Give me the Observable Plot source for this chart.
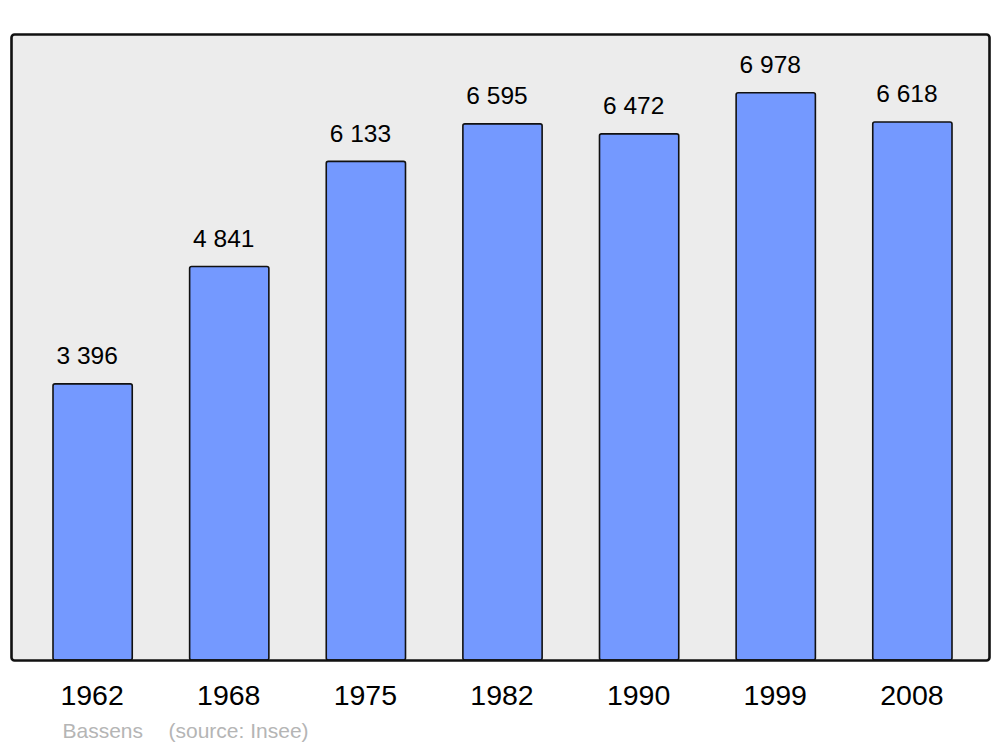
<!DOCTYPE html>
<html>
<head>
<meta charset="utf-8">
<script src="https://cdn.jsdelivr.net/npm/d3@7"></script>
<script src="https://cdn.jsdelivr.net/npm/@observablehq/plot@0.6"></script>
<style>
html, body { margin: 0; padding: 0; background: #fff; }
svg { display: block; }
</style>
</head>
<body>
<div id="chart"></div>
<script>
const years = ["1962", "1968", "1975", "1982", "1990", "1999", "2008"];
const population = [3396, 4841, 6133, 6595, 6472, 6978, 6618];
const place = "Bassens";
const source = "(source: Insee)";

const data = years.map((y, i) => ({year: y, pop: population[i]}));
const fmt = v => d3.format(",")(v).replace(/,/g, " ");
const font = "Liberation Sans, Arial, sans-serif";

const chart = Plot.plot({
  width: 1000,
  height: 747,
  marginLeft: 11,
  marginRight: 11,
  marginTop: 34,
  marginBottom: 87,
  style: {fontFamily: font, background: "#fff"},
  x: {domain: years, range: [53, 952], paddingInner: 0.42, paddingOuter: 0, round: false, axis: null},
  y: {domain: [0, 7700], axis: null},
  marks: [
    Plot.frame({fill: "#ececec", stroke: "none", rx: 3}),
    Plot.barY(data, {x: "year", y: "pop", fill: "#7499ff", stroke: "#111", strokeWidth: 1.6, rx: 2}),
    Plot.frame({fill: "none", stroke: "#111", strokeWidth: 2.6, rx: 3}),
    Plot.text(data, {x: "year", y: "pop", text: d => fmt(d.pop), lineAnchor: "bottom", dx: -6, dy: -20, fontSize: 24.5, fill: "#000"}),
    Plot.text(years, {x: d => d, text: d => d, frameAnchor: "bottom", lineAnchor: "middle", dx: -1, dy: 35.5, fontSize: 28.5, fill: "#000"}),
    Plot.text([place], {text: d => d, frameAnchor: "bottom-left", textAnchor: "start", lineAnchor: "bottom", dx: 51, dy: 77, fontSize: 21, fill: "#b5b5b5"}),
    Plot.text([source], {text: d => d, frameAnchor: "bottom-left", textAnchor: "start", lineAnchor: "bottom", dx: 157, dy: 77, fontSize: 21, fill: "#b5b5b5"})
  ]
});
document.getElementById("chart").append(chart);
</script>
</body>
</html>
